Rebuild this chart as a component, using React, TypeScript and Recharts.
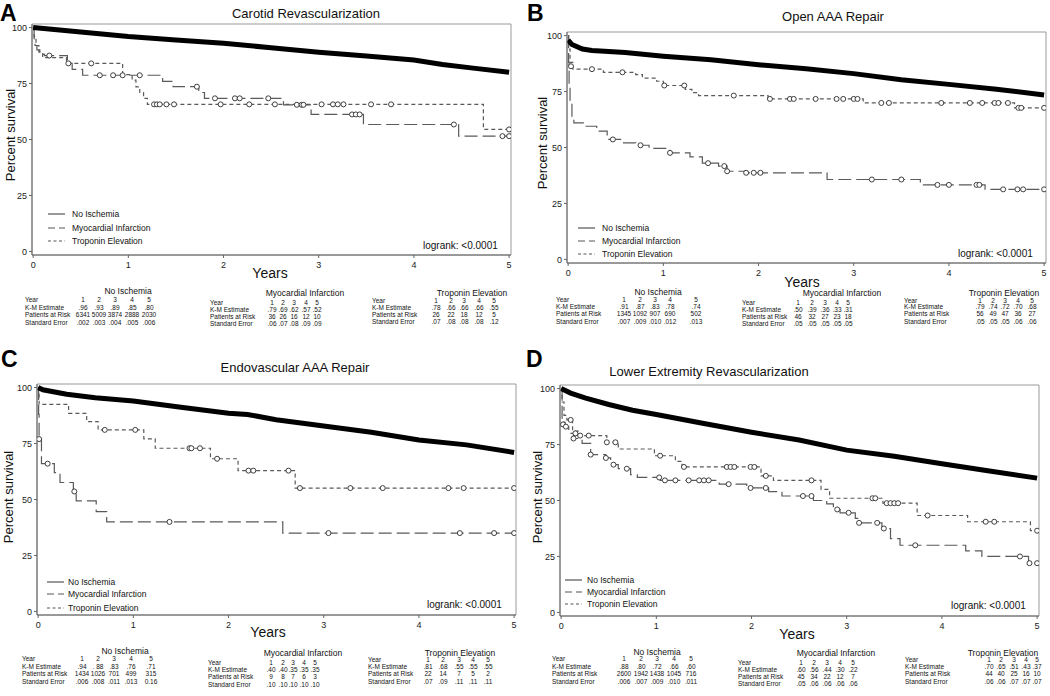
import React from "react";
import { ComposedChart, Line, Scatter, XAxis, YAxis, ReferenceArea } from "recharts";

const FONT = "'Liberation Sans', Arial, Helvetica, sans-serif";
const YEARS = [0, 1, 2, 3, 4, 5];
const PCTS = [0, 25, 50, 75, 100];
const YEAR_HEAD = ["1", "2", "3", "4", "5"];
const ROW_LABELS = ["Year", "K-M Estimate", "Patients at Risk", "Standard Error"];
const LEGEND_NAMES = ["No Ischemia", "Myocardial Infarction", "Troponin Elevation"];

// ---- A: Carotid Revascularization ----
const A_NO = [[0, 100], [0.25, 99], [0.5, 98], [0.75, 97], [1, 96], [1.5, 94.5], [2, 93], [2.5, 91], [3, 89], [3.5, 87.3], [4, 85.5], [4.3, 83.5], [4.6, 82], [5, 80]];
const A_MI = [[0, 100], [0.01, 95], [0.02, 92], [0.04, 90], [0.07, 88], [0.12, 87.5], [0.36, 84], [0.41, 81.3], [0.52, 78.7], [1.36, 76], [1.47, 73.6], [1.74, 71], [1.8, 68.4], [2.63, 65.5], [2.92, 61.2], [3.47, 56.7], [4.47, 51.5], [5, 51.5]];
const A_MI_CENS = [[0.17, 87.5], [0.7, 78.7], [0.84, 78.7], [0.94, 78.7], [1.12, 78.7], [1.72, 73.6], [1.91, 68.4], [2.12, 68.4], [2.17, 68.4], [2.47, 68.4], [2.84, 65.5], [3.35, 61.2], [3.39, 61.2], [3.43, 61.2], [4.42, 56.7], [4.93, 51.5], [5, 51.5]];
const A_TR = [[0, 100], [0.01, 96], [0.03, 92], [0.06, 89], [0.1, 86.6], [0.35, 84], [0.94, 79], [1.04, 76.5], [1.08, 73.5], [1.12, 71], [1.16, 68.4], [1.2, 65.7], [4.73, 54.5], [5, 54.5]];
const A_TR_CENS = [[0.37, 84], [0.61, 84], [1.27, 65.7], [1.3, 65.7], [1.33, 65.7], [1.4, 65.7], [1.48, 65.7], [1.97, 65.7], [2.27, 65.7], [2.54, 65.7], [2.77, 65.5], [2.82, 65.5], [3.03, 65.7], [3.15, 65.7], [3.2, 65.7], [3.26, 65.7], [3.55, 65.7], [3.76, 65.7], [5, 54.5]];

// ---- B: Open AAA Repair ----
const B_NO = [[0, 98], [0.04, 96], [0.15, 94], [0.25, 93.3], [0.6, 92.4], [1, 90.8], [1.5, 89.2], [2, 87], [2.5, 85.2], [3, 83], [3.5, 80.3], [4, 78.2], [4.5, 76], [5, 73.5]];
const B_MI = [[0, 100], [0.005, 88], [0.01, 78], [0.02, 70], [0.04, 63], [0.06, 61], [0.16, 59.5], [0.3, 57.3], [0.41, 53.6], [0.57, 52.1], [0.71, 51], [0.85, 49.6], [1.07, 47.6], [1.28, 45.8], [1.41, 43], [1.58, 41.7], [1.67, 39.4], [1.86, 38.7], [2.72, 35.7], [3.7, 33.3], [4.38, 31.3], [5, 31.3]];
const B_MI_CENS = [[0.47, 53.6], [0.76, 51], [1.07, 47.6], [1.47, 43], [1.64, 41.7], [1.67, 39.4], [1.87, 38.7], [1.95, 38.7], [2.02, 38.7], [3.19, 35.7], [3.5, 35.7], [3.88, 33.3], [4.0, 33.3], [4.29, 33.3], [4.32, 33.3], [4.57, 31.3], [4.72, 31.3], [4.78, 31.3], [5, 31.3]];
const B_TR = [[0, 100], [0.005, 94], [0.02, 88], [0.05, 85], [0.37, 83.6], [0.71, 82.6], [0.78, 81], [0.93, 79.6], [1.0, 77.7], [1.23, 76], [1.3, 74.5], [1.37, 73.2], [2.1, 71.7], [3.1, 69.9], [4.69, 67.7], [5, 67.7]];
const B_TR_CENS = [[0.03, 86.3], [0.25, 85], [0.57, 83.6], [1.01, 77.7], [1.22, 77.7], [1.74, 73.2], [2.12, 71.7], [2.33, 71.7], [2.37, 71.7], [2.6, 71.7], [2.82, 71.7], [2.89, 71.7], [3.0, 71.7], [3.04, 71.7], [3.29, 69.9], [3.37, 69.9], [3.92, 69.9], [4.22, 69.9], [4.35, 69.9], [4.48, 69.9], [4.52, 69.9], [4.62, 69.9], [4.73, 67.7], [4.76, 67.7], [5, 67.7]];

// ---- C: Endovascular AAA Repair ----
const C_NO = [[0, 100], [0.05, 99], [0.3, 97], [0.6, 95.5], [1, 94], [1.5, 91.2], [2, 88.5], [2.2, 88], [2.5, 85.6], [3, 82.8], [3.5, 80], [4, 76.6], [4.5, 74.4], [5, 71]];
const C_MI = [[0, 100], [0.005, 88], [0.01, 77], [0.035, 66], [0.17, 62], [0.23, 57.6], [0.37, 53.6], [0.4, 49.4], [0.61, 44.6], [0.72, 40], [2.57, 35], [5, 35]];
const C_MI_CENS = [[0.01, 77], [0.1, 66], [0.38, 53.6], [1.38, 40], [3.05, 35], [4.43, 35], [4.79, 35], [5, 35]];
const C_TR = [[0, 100], [0.01, 92.5], [0.32, 88.5], [0.51, 84.8], [0.63, 81.1], [1.11, 77.1], [1.23, 72.9], [1.81, 68.2], [2.1, 62.9], [2.7, 55.1], [5, 55.1]];
const C_TR_CENS = [[0.7, 81.1], [1.02, 81.1], [1.59, 72.9], [1.61, 72.9], [1.7, 72.9], [1.88, 68.2], [2.21, 62.9], [2.26, 62.9], [2.63, 62.9], [2.75, 55.1], [3.28, 55.1], [3.62, 55.1], [4.31, 55.1], [4.47, 55.1], [5, 55.1]];

// ---- D: Lower Extremity Revascularization ----
const D_NO = [[0, 100], [0.1, 98], [0.25, 95.8], [0.5, 92.9], [0.75, 90.3], [1, 88.4], [1.5, 84.4], [2, 80.5], [2.5, 77], [3, 72.5], [3.5, 69.8], [4, 66.4], [4.5, 63.2], [5, 60]];
const D_MI = [[0, 100], [0.01, 85], [0.04, 83], [0.08, 80], [0.13, 77.7], [0.22, 75.5], [0.31, 70.5], [0.47, 69], [0.52, 66], [0.6, 64.2], [0.73, 61.5], [0.8, 60.3], [1.04, 59], [1.66, 57.3], [1.95, 55.6], [2.18, 54], [2.32, 52], [2.65, 50], [2.79, 48.5], [2.86, 46], [2.93, 44.5], [3.09, 42], [3.13, 40], [3.37, 37.5], [3.46, 33], [3.56, 30], [4.25, 27.5], [4.42, 25], [4.91, 22], [5, 22]];
const D_MI_CENS = [[0.02, 84], [0.05, 83], [0.13, 77.7], [0.31, 70.5], [0.47, 69], [0.55, 66], [0.69, 64.2], [1.03, 60.3], [1.09, 59], [1.2, 59], [1.34, 59], [1.45, 59], [1.5, 59], [1.55, 59], [1.76, 57.3], [1.99, 55.6], [2.15, 55.6], [2.54, 52], [2.63, 52], [2.9, 46], [3.02, 44.5], [3.13, 40], [3.32, 40], [3.39, 37.5], [3.72, 30], [4.82, 25], [4.92, 22], [5, 22]];
const D_TR = [[0, 100], [0.01, 94], [0.03, 88], [0.06, 86], [0.12, 81], [0.18, 79], [0.48, 76], [0.6, 73], [0.98, 70], [1.2, 67.5], [1.27, 65], [2.1, 61], [2.23, 59], [2.73, 55], [2.82, 51], [3.38, 48.8], [3.74, 43.3], [4.27, 40.5], [4.93, 36.5], [5, 36.5]];
const D_TR_CENS = [[0.1, 86], [0.15, 80], [0.2, 79], [0.29, 79], [0.48, 76], [0.57, 76], [1.04, 70], [1.29, 65], [1.74, 65], [1.78, 65], [1.82, 65], [1.99, 65], [2.03, 65], [2.15, 61], [2.63, 59], [3.27, 51], [3.3, 51], [3.42, 48.8], [3.46, 48.8], [3.5, 48.8], [3.54, 48.8], [3.85, 43.3], [4.46, 40.5], [4.55, 40.5], [5, 36.5]];

// ---- tables below each panel: K-M estimate, patients at risk, standard error ----
const A_NO_TAB = [[".96", ".93", ".89", ".85", ".80"], ["6341", "5009", "3874", "2888", "2030"], [".002", ".003", ".004", ".005", ".006"]];
const A_MI_TAB = [[".79", ".69", ".62", ".57", ".52"], ["36", "26", "16", "12", "10"], [".06", ".07", ".08", ".09", ".09"]];
const A_TR_TAB = [[".78", ".66", ".66", ".66", ".55"], ["26", "22", "18", "12", "5"], [".07", ".08", ".08", ".08", ".12"]];
const B_NO_TAB = [[".91", ".87", ".83", ".78", ".74"], ["1345", "1092", "907", "690", "502"], [".007", ".009", ".010", ".012", ".013"]];
const B_MI_TAB = [[".50", ".39", ".36", ".33", ".31"], ["46", "32", "27", "23", "18"], [".05", ".05", ".05", ".05", ".05"]];
const B_TR_TAB = [[".79", ".74", ".72", ".70", ".68"], ["56", "49", "47", "36", "27"], [".05", ".05", ".05", ".06", ".06"]];
const C_NO_TAB = [[".94", ". 88", ".83", ".76", ".71"], ["1434", "1026", "701", "499", "315"], [".006", ".008", ".011", ".013", "0.16"]];
const C_MI_TAB = [[".40", ".40", ".35", ".35", ".35"], ["9", "8", "7", "6", "3"], [".10", ".10", ".10", ".10", ".10"]];
const C_TR_TAB = [[".81", ".68", ".55", ".55", ".55"], ["22", "14", "7", "5", "2"], [".07", ".09", ".11", ".11", ".11"]];
const D_NO_TAB = [[".88", ".80", ".72", ".66", ".60"], ["2600", "1942", "1438", "1045", "716"], [".006", ".007", ".009", ".010", ".011"]];
const D_MI_TAB = [[".60", ".56", ".44", ".30", ".22"], ["45", "34", "22", "12", "7"], [".05", ".06", ".06", ".06", ".06"]];
const D_TR_TAB = [[".70", ".65", ".51", ".43", ".37"], ["44", "40", "25", "16", "10"], [".06", ".06", ".07", ".07", ".07"]];

// layout
const X_DOMAIN = [-0.012, 5.02];
const Y_DOMAIN = [-1.6, 101.6];
const PLOT_W = 479;
const PLOT_H = 231;
const Y_AXIS_W = 30;
const M_TOP = 2;
const X_AXIS_H = 20;

const pts = (a: number[][]) => a.map(([t, s]) => ({ t, s }));

const Ring = (p: any) => (
  <circle cx={p.cx} cy={p.cy} r={2.5} fill="#fff" stroke="#2a2a2a" strokeWidth={0.9} />
);

const tickStyle = { fontSize: 9, fill: "#222", fontFamily: FONT };

function KMChart(props: any) {
  const { left, top, no, mi, miCens, tr, trCens } = props;
  return (
    <div style={{ position: "absolute", left: left - Y_AXIS_W, top: top - M_TOP }}>
      <ComposedChart
        width={Y_AXIS_W + PLOT_W + 4}
        height={M_TOP + PLOT_H + X_AXIS_H}
        margin={{ top: M_TOP, right: 4, bottom: 0, left: 0 }}
      >
        <XAxis dataKey="t" type="number" domain={X_DOMAIN} ticks={YEARS} interval={0} height={X_AXIS_H}
          tickSize={3} tickMargin={4} stroke="#666" tick={tickStyle} allowDataOverflow />
        <YAxis dataKey="s" type="number" domain={Y_DOMAIN} ticks={PCTS} interval={0} width={Y_AXIS_W}
          tickSize={3} tickMargin={2} stroke="#666" tick={tickStyle} allowDataOverflow />
        <ReferenceArea x1={X_DOMAIN[0]} x2={X_DOMAIN[1]} y1={Y_DOMAIN[0]} y2={Y_DOMAIN[1]}
          fill="none" stroke="#9a9a9a" strokeWidth={1} ifOverflow="visible" />
        <Line data={pts(tr)} dataKey="s" type="stepAfter" stroke="#5a5a5a" strokeWidth={1.2}
          strokeDasharray="4 3" dot={false} activeDot={false} isAnimationActive={false} />
        <Line data={pts(mi)} dataKey="s" type="stepAfter" stroke="#5a5a5a" strokeWidth={1.2}
          strokeDasharray="13 5" dot={false} activeDot={false} isAnimationActive={false} />
        <Line data={pts(no)} dataKey="s" type="linear" stroke="#000" strokeWidth={5}
          dot={false} activeDot={false} isAnimationActive={false} />
        <Scatter data={pts(trCens)} dataKey="s" shape={Ring} isAnimationActive={false} />
        <Scatter data={pts(miCens)} dataKey="s" shape={Ring} isAnimationActive={false} />
      </ComposedChart>
    </div>
  );
}

const PANELS = [
  { letter: "A", lx: 0, ly: 21, title: "Carotid Revascularization", tx: 306, ty: 17.5, fx: 32, fy: 24,
    px: 10, py: 135, yx: 270, yy: 278, legX: 48, legTX: 72, legY: [214, 228, 241], logX: 423, logY: 248.5,
    no: A_NO, mi: A_MI, miCens: A_MI_CENS, tr: A_TR, trCens: A_TR_CENS },
  { letter: "B", lx: 527, ly: 21, title: "Open AAA Repair", tx: 833, ty: 21, fx: 567, fy: 32,
    px: 542, py: 143, yx: 802, yy: 287, legX: 578, legTX: 602, legY: [228, 241, 254], logX: 958, logY: 256.5,
    no: B_NO, mi: B_MI, miCens: B_MI_CENS, tr: B_TR, trCens: B_TR_CENS },
  { letter: "C", lx: 1, ly: 367, title: "Endovascular AAA Repair", tx: 295, ty: 372, fx: 37, fy: 384,
    px: 8, py: 497, yx: 268, yy: 637, legX: 47, legTX: 68, legY: [582, 594, 608], logX: 427, logY: 607.5,
    no: C_NO, mi: C_MI, miCens: C_MI_CENS, tr: C_TR, trCens: C_TR_CENS },
  { letter: "D", lx: 526, ly: 367, title: "Lower Extremity Revascularization", tx: 709, ty: 375.5, fx: 559.5, fy: 385,
    px: 537, py: 497, yx: 797, yy: 639, legX: 565, legTX: 587, legY: [580, 592, 604], logX: 951, logY: 608.5,
    no: D_NO, mi: D_MI, miCens: D_MI_CENS, tr: D_TR, trCens: D_TR_CENS },
];

const TABLES = [
  { name: "No Ischemia", vals: A_NO_TAB, lx: 25, cols: [83, 99, 115, 132, 149], tx: 128, ty: 291, rows: [300, 307.5, 315, 322.5] },
  { name: "Myocardial Infarction", vals: A_MI_TAB, lx: 210, cols: [272, 283, 294, 306, 317], tx: 305, ty: 293, rows: [303, 310, 317, 324] },
  { name: "Troponin Elevation", vals: A_TR_TAB, lx: 372, cols: [436, 451, 464, 479, 494], tx: 472, ty: 293, rows: [301, 307.5, 314.5, 322] },
  { name: "No Ischemia", vals: B_NO_TAB, lx: 556, cols: [624, 640, 655, 670, 696], tx: 658, ty: 292, rows: [300, 307, 314, 322] },
  { name: "Myocardial Infarction", vals: B_MI_TAB, lx: 742, cols: [798, 812, 825, 837, 848], tx: 842, ty: 293, rows: [303, 310, 317, 324] },
  { name: "Troponin Elevation", vals: B_TR_TAB, lx: 904, cols: [980, 993, 1005, 1018, 1032], tx: 1004, ty: 293, rows: [301, 307, 314, 322] },
  { name: "No Ischemia", vals: C_NO_TAB, lx: 22, cols: [82, 98, 114, 131, 151], tx: 125, ty: 651, rows: [659, 667, 674, 682] },
  { name: "Myocardial Infarction", vals: C_MI_TAB, lx: 208, cols: [271, 283, 293, 304, 315], tx: 303, ty: 653, rows: [663, 670, 677, 685] },
  { name: "Troponin Elevation", vals: C_TR_TAB, lx: 368, cols: [428, 443, 459, 473, 488], tx: 460, ty: 653, rows: [660, 667, 674, 682] },
  { name: "No Ischemia", vals: D_NO_TAB, lx: 552, cols: [624, 641, 657, 674, 691], tx: 657, ty: 652, rows: [659, 667, 674, 682] },
  { name: "Myocardial Infarction", vals: D_MI_TAB, lx: 738, cols: [801, 814, 827, 840, 853], tx: 836, ty: 653, rows: [663, 670, 677, 684] },
  { name: "Troponin Elevation", vals: D_TR_TAB, lx: 905, cols: [989, 1001, 1014, 1026, 1037], tx: 1003, ty: 653, rows: [660, 667, 674, 682] },
];

const LEGEND_STROKES = [
  { stroke: "#333", dash: undefined },
  { stroke: "#555", dash: "7 4" },
  { stroke: "#555", dash: "3 2.5" },
];

export default function App() {
  return (
    <div style={{ position: "absolute", left: 0, top: 0, width: 1050, height: 696, background: "#fff", fontFamily: FONT }}>
      {PANELS.map((p) => (
        <KMChart key={p.letter} left={p.fx} top={p.fy} no={p.no} mi={p.mi} miCens={p.miCens} tr={p.tr} trCens={p.trCens} />
      ))}
      <svg width={1050} height={696} style={{ position: "absolute", left: 0, top: 0, pointerEvents: "none" }} fontFamily={FONT}>
        {PANELS.map((p) => (
          <g key={p.letter}>
            <text x={p.lx} y={p.ly} fontSize={23} fontWeight="bold" fill="#000">{p.letter}</text>
            <text x={p.tx} y={p.ty} fontSize={13} textAnchor="middle" fill="#111">{p.title}</text>
            <text transform={`translate(${p.px + 4.5},${p.py}) rotate(-90)`} fontSize={13} textAnchor="middle" fill="#111">
              Percent survival
            </text>
            <text x={p.yx} y={p.yy} fontSize={14} textAnchor="middle" fill="#111">Years</text>
            {LEGEND_NAMES.map((n, i) => (
              <g key={n}>
                <line x1={p.legX} x2={p.legX + 17} y1={p.legY[i]} y2={p.legY[i]} stroke={LEGEND_STROKES[i].stroke}
                  strokeWidth={1} strokeDasharray={LEGEND_STROKES[i].dash} />
                <text x={p.legTX} y={p.legY[i] + 3} fontSize={8.5} fill="#111">{n}</text>
              </g>
            ))}
            <text x={p.logX} y={p.logY} fontSize={10} fill="#111">logrank: &lt;0.0001</text>
          </g>
        ))}
        {TABLES.map((tb, k) => (
          <g key={k} fontSize={6.5} fill="#111">
            <text x={tb.tx} y={tb.ty + 3} fontSize={8.5} textAnchor="middle">{tb.name}</text>
            {ROW_LABELS.map((lab, r) => (
              <g key={lab}>
                <text x={tb.lx} y={tb.rows[r] + 2.3}>{lab}</text>
                {(r === 0 ? YEAR_HEAD : tb.vals[r - 1]).map((v, c) => (
                  <text key={c} x={tb.cols[c]} y={tb.rows[r] + 2.3} textAnchor="middle">{v}</text>
                ))}
              </g>
            ))}
          </g>
        ))}
      </svg>
    </div>
  );
}
